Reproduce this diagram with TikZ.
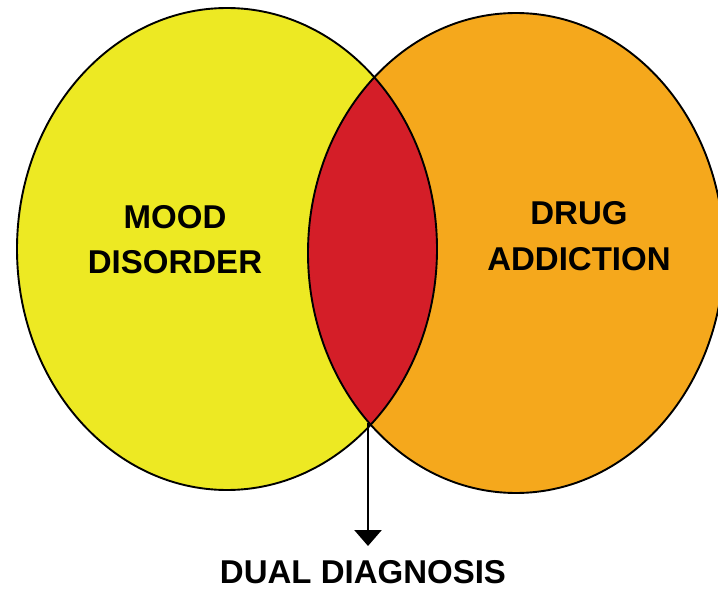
\documentclass[tikz,border=0pt]{standalone}
\usepackage{fontspec}
\setmainfont{Liberation Sans}
\usetikzlibrary{arrows.meta}
\definecolor{moodyellow}{RGB}{237,233,35}
\definecolor{drugorange}{RGB}{245,168,28}
\definecolor{dualred}{RGB}{212,30,40}
\begin{document}
\begin{tikzpicture}[x=1pt,y=-1pt,
  setline/.style={draw=black,line width=1.9pt},
  label/.style={font=\fontsize{33}{33}\selectfont\bfseries,inner sep=0pt,anchor=base},
  pointer/.style={line width=2.8pt,-{Triangle[width=27pt,length=16pt]}}]
\useasboundingbox (0,0) rectangle (718,591);
% fills
\fill[moodyellow] (227,249) ellipse [x radius=210, y radius=241];
\fill[drugorange] (516,253) ellipse [x radius=208, y radius=240];
\begin{scope}
  \clip (227,249) ellipse [x radius=210, y radius=241];
  \fill[dualred] (516,253) ellipse [x radius=208, y radius=240];
\end{scope}
% outlines
\draw[setline] (227,249) ellipse [x radius=210, y radius=241];
\draw[setline] (516,253) ellipse [x radius=208, y radius=240];
% labels
\node[label] (mood) at (175,228) {MOOD};
\node[label] (disorder) at (175,273) {DISORDER};
\node[label] (drug) at (579,225) {DRUG};
\node[label] (addiction) at (579,270) {ADDICTION};
\node[label] (dual) at (363,583) {DUAL DIAGNOSIS};
% pointer
\coordinate (bot) at (368,423);
\coordinate (tip) at (368,546);
\draw[pointer] (bot) -- (tip);
\end{tikzpicture}
\end{document}
